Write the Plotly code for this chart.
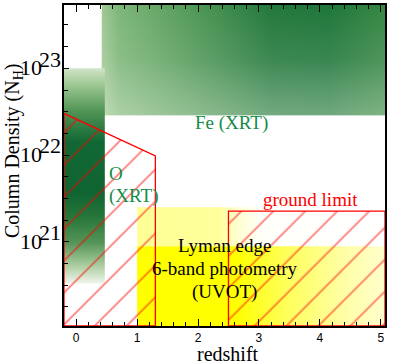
import plotly.graph_objects as go

# ---------------- data (redshift, log10 N_H) ----------------
x_range = [-0.2, 5.07]
logN_range = [20.03, 23.73]

fe_z = [0.42, 5.07]
fe_logN = [22.46, 23.73]

o_z = [-0.2, 0.47]
o_logN = [20.52, 23.0]

uv_z = [1.0, 5.07]
uv_bright_logN = [20.03, 20.95]
uv_light_logN = [20.95, 21.40]

o_hatch_z = [-0.2, 1.3, 1.3, -0.2, -0.2]
o_hatch_logN = [22.48, 21.99, 20.03, 20.03, 22.48]

ground_z = [2.5, 5.07]
ground_logN = [20.03, 21.355]

x_tick_vals = [0, 1, 2, 3, 4, 5]
y_major_exp = [21, 22, 23]
y_minor_exp = [20.25, 20.5, 20.75, 21.25, 21.5, 21.75, 22.25, 22.5, 22.75, 23.25, 23.5]

SERIF = "Liberation Serif"
GREEN_TXT = "rgb(20,140,70)"


def p10(v):
    return 10.0 ** v


def rect(zr, lr):
    xs = [zr[0], zr[1], zr[1], zr[0], zr[0]]
    ys = [p10(lr[0]), p10(lr[0]), p10(lr[1]), p10(lr[1]), p10(lr[0])]
    return xs, ys


fig = go.Figure()

# Fe (XRT) region: horizontal base gradient + vertical whitening overlay
xs, ys = rect(fe_z, fe_logN)
fig.add_trace(go.Scatter(
    x=xs, y=ys, mode="lines", line=dict(width=0), fill="toself",
    fillgradient=dict(type="horizontal", colorscale=[
        [0.0, "rgb(160,200,150)"], [0.06, "rgb(125,182,120)"],
        [0.3, "rgb(85,155,90)"], [0.6, "rgb(35,120,60)"],
        [0.8, "rgb(30,118,58)"], [1.0, "rgb(55,135,68)"]]),
    hoverinfo="skip", showlegend=False))
fig.add_trace(go.Scatter(
    x=xs, y=ys, mode="lines", line=dict(width=0), fill="toself",
    fillgradient=dict(type="vertical", colorscale=[
        [0.0, "rgba(245,250,235,0.38)"], [0.5, "rgba(255,255,255,0.12)"],
        [1.0, "rgba(255,255,255,0)"]]),
    hoverinfo="skip", showlegend=False))

# O (XRT) column: vertical gradient
xs, ys = rect(o_z, o_logN)
fig.add_trace(go.Scatter(
    x=xs, y=ys, mode="lines", line=dict(width=0), fill="toself",
    fillgradient=dict(type="vertical", colorscale=[
        [0.0, "rgb(240,245,235)"], [0.09, "rgb(165,202,155)"],
        [0.19, "rgb(85,148,88)"], [0.31, "rgb(38,118,58)"],
        [0.42, "rgb(15,100,50)"], [0.66, "rgb(18,104,52)"],
        [0.8, "rgb(80,148,85)"], [0.92, "rgb(155,198,145)"],
        [1.0, "rgb(210,228,200)"]]),
    hoverinfo="skip", showlegend=False))

# UVOT yellow regions
xs, ys = rect(uv_z, uv_light_logN)
fig.add_trace(go.Scatter(
    x=xs, y=ys, mode="lines", line=dict(width=0), fill="toself",
    fillgradient=dict(type="horizontal", colorscale=[
        [0.0, "rgb(255,255,150)"], [0.33, "rgb(255,255,155)"],
        [0.4, "rgb(255,255,205)"], [0.5, "rgb(255,255,250)"],
        [1.0, "rgb(255,255,255)"]]),
    hoverinfo="skip", showlegend=False))
xs, ys = rect(uv_z, uv_bright_logN)
fig.add_trace(go.Scatter(
    x=xs, y=ys, mode="lines", line=dict(width=0), fill="toself",
    fillgradient=dict(type="horizontal", colorscale=[
        [0.0, "rgb(255,255,0)"], [0.4, "rgb(255,255,0)"],
        [0.6, "rgb(255,255,90)"], [0.85, "rgb(255,255,170)"],
        [1.0, "rgb(255,255,205)"]]),
    hoverinfo="skip", showlegend=False))

# hatched regions
hatch = dict(shape="/", fgcolor="red", bgcolor="rgba(0,0,0,0)",
             size=22.6, solidity=0.08, fillmode="overlay")
fig.add_trace(go.Scatter(
    x=o_hatch_z, y=[p10(v) for v in o_hatch_logN], mode="lines",
    line=dict(color="red", width=1.3), fill="toself",
    fillcolor="rgba(0,0,0,0)", fillpattern=hatch,
    hoverinfo="skip", showlegend=False))
xs, ys = rect(ground_z, ground_logN)
fig.add_trace(go.Scatter(
    x=xs, y=ys, mode="lines",
    line=dict(color="red", width=1.3), fill="toself",
    fillcolor="rgba(0,0,0,0)", fillpattern=hatch,
    hoverinfo="skip", showlegend=False))


# text labels
def note(text, x, y, color, size=19, xanchor="center"):
    fig.add_annotation(x=x, y=y, text=text, showarrow=False, xanchor=xanchor,
                       yanchor="middle", font=dict(family=SERIF, size=size, color=color))


note("Fe (XRT)", 2.55, 22.37, GREEN_TXT)
note("O", 0.50, 21.79, GREEN_TXT, xanchor="left")
note("(XRT)", 0.50, 21.53, GREEN_TXT, xanchor="left")
note("ground limit", 3.84, 21.49, "red")
note("Lyman edge", 2.44, 20.956, "black")
note("6-band photometry", 2.44, 20.696, "black")
note("(UVOT)", 2.44, 20.418, "black")

# y tick labels: "10" with a full-size exponent, both pinned by their left edges
for e in y_major_exp:
    fig.add_annotation(xref="paper", yref="y", x=-0.139, y=e + 0.005, text="10",
                       showarrow=False, xanchor="left", yanchor="middle", borderpad=0,
                       font=dict(family=SERIF, size=22, color="black"))
    fig.add_annotation(xref="paper", yref="y", x=-0.082, y=e + 0.105, text=str(e),
                       showarrow=False, xanchor="left", yanchor="middle", borderpad=0,
                       font=dict(family=SERIF, size=22, color="black"))

# axis titles as annotations
fig.add_annotation(xref="paper", yref="paper", x=0.512, y=-0.088, text="redshift",
                   showarrow=False, xanchor="center", yanchor="middle", borderpad=0,
                   font=dict(family=SERIF, size=20, color="black"))
fig.add_annotation(xref="paper", yref="paper", x=-0.159, y=0.548,
                   text="Column Density (N<sub>H</sub>)", textangle=-90,
                   showarrow=False, xanchor="center", yanchor="middle",
                   font=dict(family=SERIF, size=20, color="black"))

fig.update_xaxes(
    range=x_range, tickvals=x_tick_vals, ticks="inside", ticklen=7, tickwidth=1,
    tickcolor="black", showline=True, linecolor="black", linewidth=1.5,
    mirror="ticks", showgrid=False, zeroline=False, automargin=False,
    tickfont=dict(family="Liberation Sans", size=12, color="black"),
    minor=dict(dtick=0.2, ticks="inside", ticklen=4, tickcolor="black", showgrid=False))
fig.update_yaxes(
    type="log", range=logN_range,
    tickvals=[p10(e) for e in y_major_exp], ticktext=["", "", ""],
    ticks="inside", ticklen=5, tickwidth=1, tickcolor="black",
    showline=True, linecolor="black", linewidth=1.5, mirror=True,
    showgrid=False, zeroline=False, automargin=False,
    minor=dict(tickvals=[p10(e) for e in y_minor_exp], ticks="inside", ticklen=4,
               tickcolor="black", showgrid=False))

fig.update_layout(
    width=393, height=364, margin=dict(l=64, r=8, t=5, b=38, autoexpand=False),
    plot_bgcolor="white", paper_bgcolor="white", showlegend=False)

fig.write_html("out.html", config={"displayModeBar": False},
               post_script="document.body.style.margin='0';document.body.style.padding='0';")
